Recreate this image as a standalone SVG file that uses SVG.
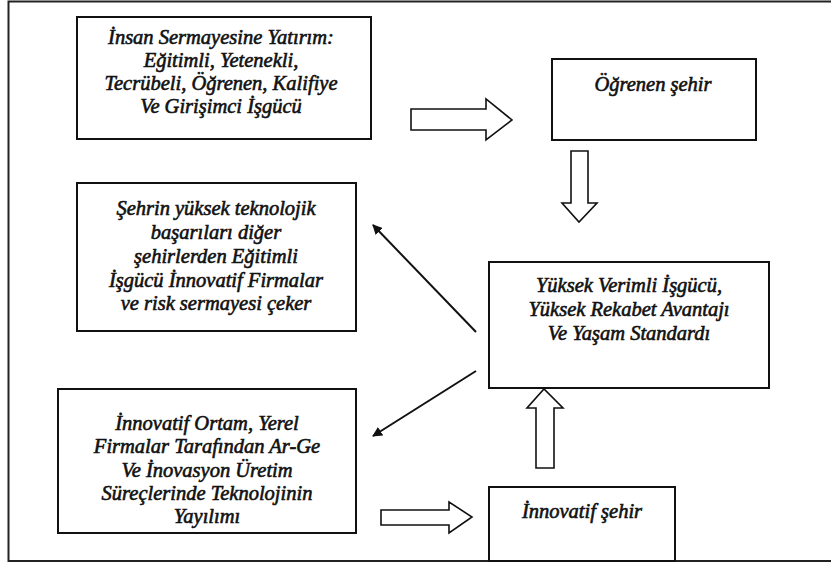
<svg xmlns="http://www.w3.org/2000/svg" width="831" height="565" viewBox="0 0 831 565">
<style>
.box{fill:#fff;stroke:#111;stroke-width:2}
.blk{fill:#fff;stroke:#111;stroke-width:1.6;stroke-linejoin:miter}
.ln{stroke:#111;stroke-width:2;fill:none}
</style>
<defs>
<marker id="ah" markerWidth="10" markerHeight="10" refX="9" refY="5" orient="auto" markerUnits="userSpaceOnUse" viewBox="0 0 10 10">
<path d="M0,0 L10,5 L0,10 Z" fill="#111"/>
</marker>
</defs>
<rect x="0" y="0" width="831" height="565" fill="#fff"/>
<path d="M831,1.5 H8.5 V561 H831" fill="none" stroke="#222" stroke-width="2"/>
<g font-family="Liberation Serif, serif" font-style="italic" font-size="20.5" text-anchor="middle" fill="#111" stroke="#111" stroke-width="0.6">
<g id="n1">
<rect class="box" x="77" y="17" width="294" height="122"/>
<text x="221" y="44">İnsan Sermayesine Yatırım:</text>
<text x="221" y="67">Eğitimli, Yetenekli,</text>
<text x="221" y="90">Tecrübeli, Öğrenen, Kalifiye</text>
<text x="221" y="113">Ve Girişimci İşgücü</text>
</g>
<g id="n2">
<rect class="box" x="552" y="59" width="204" height="81"/>
<text x="653" y="91">Öğrenen şehir</text>
</g>
<g id="n3">
<rect class="box" x="77" y="183" width="279" height="148"/>
<text x="216" y="215">Şehrin yüksek teknolojik</text>
<text x="216" y="239">başarıları diğer</text>
<text x="216" y="263">şehirlerden Eğitimli</text>
<text x="216" y="287">İşgücü İnnovatif Firmalar</text>
<text x="216" y="310">ve risk sermayesi çeker</text>
</g>
<g id="n4">
<rect class="box" x="489" y="262" width="280" height="126"/>
<text x="629" y="292">Yüksek Verimli İşgücü,</text>
<text x="629" y="316">Yüksek Rekabet Avantajı</text>
<text x="629" y="340">Ve Yaşam Standardı</text>
</g>
<g id="n5">
<rect class="box" x="58" y="389" width="298" height="144"/>
<text x="207" y="430">İnnovatif Ortam, Yerel</text>
<text x="207" y="453">Firmalar Tarafından Ar-Ge</text>
<text x="207" y="477">Ve İnovasyon Üretim</text>
<text x="207" y="500">Süreçlerinde Teknolojinin</text>
<text x="207" y="523">Yayılımı</text>
</g>
<g id="n6">
<rect class="box" x="489" y="487" width="186" height="74"/>
<text x="582" y="518">İnnovatif şehir</text>
</g>
</g>
<g id="connectors">
<polygon class="blk" points="411,109 486,109 486,99 512,120 486,140 486,130 411,130"/>
<polygon class="blk" points="571,151 588,151 588,203 597,203 579,222 562,203 571,203"/>
<polygon class="blk" points="536,468 554,468 554,408 563,408 544,389 527,408 536,408"/>
<polygon class="blk" points="381,510 449,510 449,502 472,517 449,533 449,525 381,525"/>
<line class="ln" x1="476" y1="332" x2="373" y2="225" marker-end="url(#ah)"/>
<line class="ln" x1="476" y1="371" x2="373" y2="436" marker-end="url(#ah)"/>
</g>
</svg>
